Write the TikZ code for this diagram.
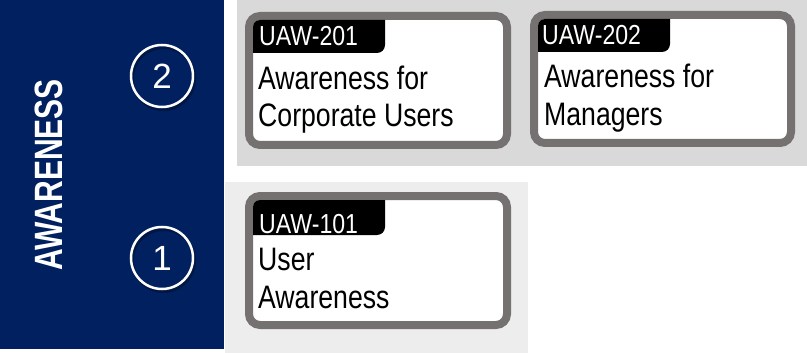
\documentclass[tikz,border=0pt]{standalone}
\usepackage{fontspec}
\setmainfont{Liberation Sans}
\newfontfamily\narrowfont[FakeStretch=0.84]{Liberation Sans}
\newfontfamily\bodyfont[FakeStretch=0.82]{Liberation Sans}
\newfontfamily\headfont[FakeStretch=0.76]{Liberation Sans}

\definecolor{navyband}{RGB}{0,32,96}
\definecolor{cardgray}{RGB}{118,113,113}
\definecolor{upperband}{RGB}{217,217,217}
\definecolor{lowerband}{RGB}{237,237,237}

\begin{document}
\begin{tikzpicture}[x=1pt, y=-1pt,
    card/.style={draw=cardgray, line width=8pt, fill=white, rounded corners=11pt},
    tab/.style={fill=black, rounded corners=8pt},
    code/.style={anchor=base west, inner sep=0pt, text=white, font=\narrowfont\fontsize{27.5}{30}\selectfont},
    title/.style={anchor=base west, inner sep=0pt, align=left, font=\bodyfont\fontsize{32.5}{37.5}\selectfont},
    level/.style={circle, draw=white, line width=2.5pt, minimum size=62pt, inner sep=0pt, text=white, font=\fontsize{35}{38}\selectfont}]
    \useasboundingbox (0,0) rectangle (807,353);

    % Background bands
    \fill[navyband] (0,0) rectangle (224,349); % Side panel
    \fill[upperband] (237,0) rectangle (807,166); % Level 2 band
    \fill[lowerband] (225,182) rectangle (528,353); % Level 1 band

    % Side title
    \node[rotate=90, inner sep=0pt, text=white, font=\headfont\bfseries\fontsize{39.5}{40}\selectfont] (awareness) at (49,175) {AWARENESS};

    % Level markers with soft shadow
    \draw[black, opacity=0.3, line width=3pt] (163.5,78.5) circle (31);
    \draw[black, opacity=0.3, line width=3pt] (163.5,260.5) circle (31);
    \node[level] (lvl2) at (162,76) {2};
    \node[level] (lvl1) at (162,258) {1};

    % Card UAW-201 (title anchored at its last line)
    \draw[card] (249,16) rectangle (507,145);
    \begin{scope}
        \clip[rounded corners=7pt] (253,20) rectangle (503,141);
        \fill[tab] (240,8) rectangle (385,53);
    \end{scope}
    \node[code] (uaw201) at (259,46) {UAW-201};
    \node[title] (uaw201name) at (258,127) {Awareness for\\Corporate Users};

    % Card UAW-202
    \draw[card] (534,15) rectangle (791,143);
    \begin{scope}
        \clip[rounded corners=7pt] (538,19) rectangle (787,139);
        \fill[tab] (525,7) rectangle (670,52);
    \end{scope}
    \node[code] (uaw202) at (542,45) {UAW-202};
    \node[title] (uaw202name) at (544,125) {Awareness for\\Managers};

    % Card UAW-101
    \draw[card] (249,196) rectangle (507,325);
    \begin{scope}
        \clip[rounded corners=7pt] (253,200) rectangle (503,321);
        \fill[tab] (240,188) rectangle (385,235);
    \end{scope}
    \node[code] (uaw101) at (259,233) {UAW-101};
    \node[title] (uaw101name) at (258,308) {User\\Awareness};

\end{tikzpicture}
\end{document}
